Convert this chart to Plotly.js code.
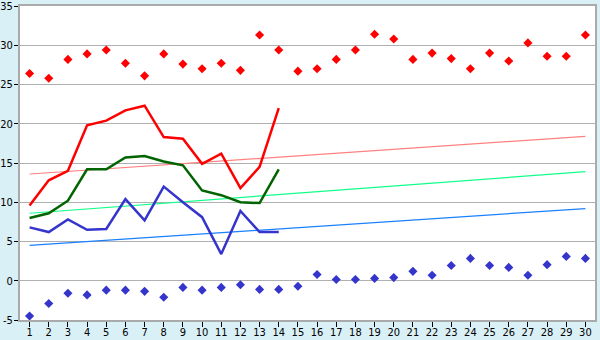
<!DOCTYPE html>
<html>
<head>
<meta charset="utf-8">
<script src="https://cdn.plot.ly/plotly-3.0.1.min.js"></script>
<style>html,body{margin:0;padding:0;background:#daf0f7;}#chart{width:600px;height:340px;}</style>
</head>
<body>
<div id="chart"></div>
<script>
var days = [1,2,3,4,5,6,7,8,9,10,11,12,13,14,15,16,17,18,19,20,21,22,23,24,25,26,27,28,29,30];
var lineDays = [1,2,3,4,5,6,7,8,9,10,11,12,13,14];
var recordHigh = [26.4,25.8,28.2,28.9,29.4,27.7,26.1,28.9,27.6,27.0,27.7,26.8,31.3,29.4,26.7,27.0,28.2,29.4,31.4,30.8,28.2,29.0,28.3,27.0,29.0,28.0,30.3,28.6,28.6,31.3];
var recordLow = [-4.5,-2.9,-1.6,-1.8,-1.2,-1.2,-1.35,-2.1,-0.85,-1.2,-0.85,-0.5,-1.1,-1.1,-0.7,0.8,0.15,0.15,0.3,0.4,1.2,0.7,1.95,2.85,1.95,1.7,0.7,2.05,3.1,2.85];
var dailyMax = [9.6,12.8,14.0,19.8,20.4,21.7,22.3,18.3,18.1,14.9,16.2,11.8,14.5,22.0];
var dailyMean = [8.0,8.6,10.2,14.2,14.2,15.7,15.9,15.2,14.7,11.5,10.9,10.0,9.9,14.2];
var dailyMin = [6.8,6.2,7.8,6.5,6.6,10.4,7.7,12.0,10.0,8.1,3.4,8.9,6.2,6.2];
var trendDays = [1,30];
var trendMax = [13.6,18.4];
var trendMean = [8.6,13.9];
var trendMin = [4.5,9.2];
var yTicks = [-5,0,5,10,15,20,25,30,35];

var traces = [
  {x: trendDays, y: trendMax, mode:'lines', line:{color:'#ff8080', width:1.2}},
  {x: trendDays, y: trendMean, mode:'lines', line:{color:'#11ff88', width:1.2}},
  {x: trendDays, y: trendMin, mode:'lines', line:{color:'#1a80ff', width:1.2}},
  {x: lineDays, y: dailyMax, mode:'lines', line:{color:'#ff0000', width:2.5}},
  {x: lineDays, y: dailyMean, mode:'lines', line:{color:'#006400', width:2.5}},
  {x: lineDays, y: dailyMin, mode:'lines', line:{color:'#3535cc', width:2.5}},
  {x: days, y: recordHigh, mode:'markers', marker:{symbol:'diamond', size:7, color:'#ff0000'}},
  {x: days, y: recordLow, mode:'markers', marker:{symbol:'diamond', size:7, color:'#3535cc'}}
];

var layout = {
  width:600, height:340,
  margin:{l:20, r:5, t:6, b:20, pad:0},
  paper_bgcolor:'#daf0f7',
  plot_bgcolor:'#ffffff',
  showlegend:false,
  font:{family:'DejaVu Sans Condensed, DejaVu Sans, sans-serif', size:11, color:'#000'},
  xaxis:{
    range:[0.5,30.5], tickmode:'array', tickvals:days, ticktext:days.map(String),
    showgrid:false, zeroline:false, showline:true, linecolor:'#aaaaaa', linewidth:2, mirror:true,
    ticks:'outside', ticklen:5, tickcolor:'#000', tickwidth:1, fixedrange:true,
    ticklabelstandoff:-4, ticklabeloverflow:'allow'
  },
  yaxis:{
    range:[-5,35], tickmode:'array', tickvals:yTicks, ticktext:yTicks.map(String),
    showgrid:true, gridcolor:'#b0b0b0', gridwidth:1, zeroline:false,
    showline:true, linecolor:'#aaaaaa', linewidth:2, mirror:true,
    ticks:'outside', ticklen:4, tickcolor:'#000', tickwidth:1, fixedrange:true,
    ticklabelstandoff:-1, ticklabeloverflow:'allow'
  }
};

Plotly.newPlot('chart', traces, layout, {staticPlot:true, displayModeBar:false});
</script>
</body>
</html>
